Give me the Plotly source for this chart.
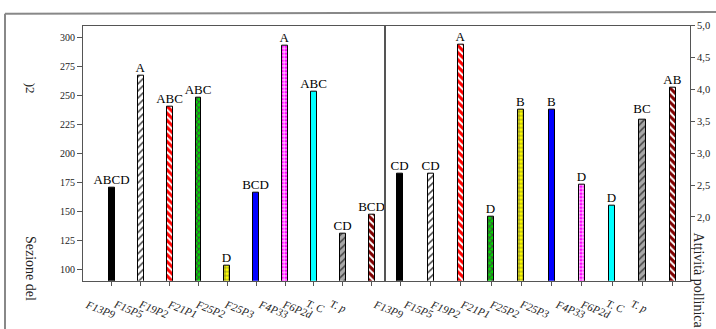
import plotly.graph_objects as go

W, H = 716, 329


def px(x):
    return x / W


def py(y):
    return 1 - y / H


# ---------------- data ----------------
categories = [1, 2, 3, 4, 5, 6, 7, 8, 9, 10]
tick_labels = ["F13P9", "F15P5", "F19P2", "F21P1", "F25P2", "F25P3", "F4P33", "F6P2d", "T. C", "T. p"]

left_values = [170, 267, 240, 248, 103, 166, 293, 253, 131, 147]
left_letters = ["ABCD", "A", "ABC", "ABC", "D", "BCD", "A", "ABC", "CD", "BCD"]

right_values = [2.68, 2.68, 4.70, 2.00, 3.68, 3.68, 2.50, 2.17, 3.52, 4.02]
right_letters = ["CD", "CD", "A", "D", "B", "B", "D", "D", "BC", "AB"]

left_ticks = [100, 125, 150, 175, 200, 225, 250, 275, 300]
right_ticks = [1.0, 1.5, 2.0, 2.5, 3.0, 3.5, 4.0, 4.5, 5.0]
right_ticktext = ["", "", "2,0", "2,5", "3,0", "3,5", "4,0", "4,5", "5,0"]

# ---------------- styles ----------------
bar_colors = ["#000000", "#ffffff", "#ff0000", "#00dd00", "#ffff00",
              "#0000ff", "#ff00ff", "#00ffff", "#a8a8a8", "#800000"]
pattern_shapes = ["", "/", "\\", "x", "+", "", "+", "", "/", "\\"]
pattern_sizes = [6, 5, 5, 4, 4, 6, 3.5, 6, 5, 5]
pattern_solid = [0.3, 0.3, 0.4, 0.45, 0.25, 0.3, 0.4, 0.3, 0.3, 0.4]
label_offsets = [-31, -31, -35, -35, -36, -36, -31, -36, -41, -46]

serif = "Liberation Serif"


def bar_trace(values, letters, xa, ya):
    return go.Bar(
        x=categories, y=values, xaxis=xa, yaxis=ya, width=0.2,
        marker=dict(
            color=bar_colors,
            line=dict(color="#000000", width=1),
            pattern=dict(shape=pattern_shapes, fgcolor="#000000", fgopacity=1,
                         size=pattern_sizes, solidity=pattern_solid, fillmode="overlay"),
        ),
        text=letters, textposition="outside", constraintext="none", cliponaxis=False,
        textfont=dict(family=serif, size=13, color="#000000"),
        showlegend=False, hoverinfo="skip",
    )


fig = go.Figure()
fig.add_trace(bar_trace(left_values, left_letters, "x", "y"))
fig.add_trace(bar_trace(right_values, right_letters, "x2", "y2"))

axis_line = "#555555"
common_x = dict(showgrid=False, zeroline=False, showline=True, linecolor=axis_line, linewidth=1,
                mirror=True, ticks="outside", ticklen=4, tickcolor=axis_line,
                tickvals=categories, showticklabels=False)

fig.update_layout(
    width=W, height=H, margin=dict(l=0, r=0, t=0, b=0),
    paper_bgcolor="white", plot_bgcolor="white", bargap=0,
    xaxis=dict(domain=[px(83), px(385)], range=[0.0, 10.46], anchor="y", **common_x),
    xaxis2=dict(domain=[px(385), px(690)], range=[0.495, 10.57], anchor="y2", **common_x),
    yaxis=dict(domain=[py(280), py(21)], range=[90, 310], anchor="x",
               showgrid=False, zeroline=False, showline=True, linecolor=axis_line, linewidth=1,
               mirror=True, ticks="outside", ticklen=5, tickcolor=axis_line,
               tickvals=left_ticks, tickfont=dict(family=serif, size=10, color="#222222")),
    yaxis2=dict(domain=[py(280), py(21)], range=[1.0, 5.0], anchor="x2", side="right",
                showgrid=False, zeroline=False, showline=True, linecolor=axis_line, linewidth=1,
                mirror=True, ticks="outside", ticklen=4, tickcolor=axis_line,
                tickvals=right_ticks, ticktext=right_ticktext,
                tickfont=dict(family=serif, size=10.5, color="#222222")),
)

annotations = []
for xa in ("x", "x2"):
    for c, lab, off in zip(categories, tick_labels, label_offsets):
        annotations.append(dict(
            text=lab, xref=xa, yref="paper", x=c, y=py(294), xshift=off,
            xanchor="left", yanchor="top", textangle=22, showarrow=False,
            font=dict(family=serif, size=11, color="#222222", style="italic"),
        ))

annotations += [
    dict(text="Sezione del", xref="paper", yref="paper", x=px(30), y=py(268),
         textangle=90, showarrow=False, xanchor="center", yanchor="middle",
         font=dict(family=serif, size=14, color="#222222")),
    dict(text=")2", xref="paper", yref="paper", x=px(30), y=py(85),
         textangle=90, showarrow=False, xanchor="center", yanchor="middle",
         font=dict(family=serif, size=13, color="#222222")),
    dict(text="Attività pollinica", xref="paper", yref="paper", x=px(698), y=py(229),
         textangle=90, showarrow=False, xanchor="center", yanchor="top",
         font=dict(family=serif, size=14, color="#222222")),
]
fig.update_layout(annotations=annotations)

fig.update_layout(shapes=[
    dict(type="line", xref="paper", yref="paper", x0=px(5), x1=px(5), y0=0, y1=py(9),
         line=dict(color="#888888", width=2)),
    dict(type="line", xref="paper", yref="paper", x0=px(5), x1=1, y0=py(9), y1=py(7),
         line=dict(color="#888888", width=2)),
])

fig.write_html("out.html")
